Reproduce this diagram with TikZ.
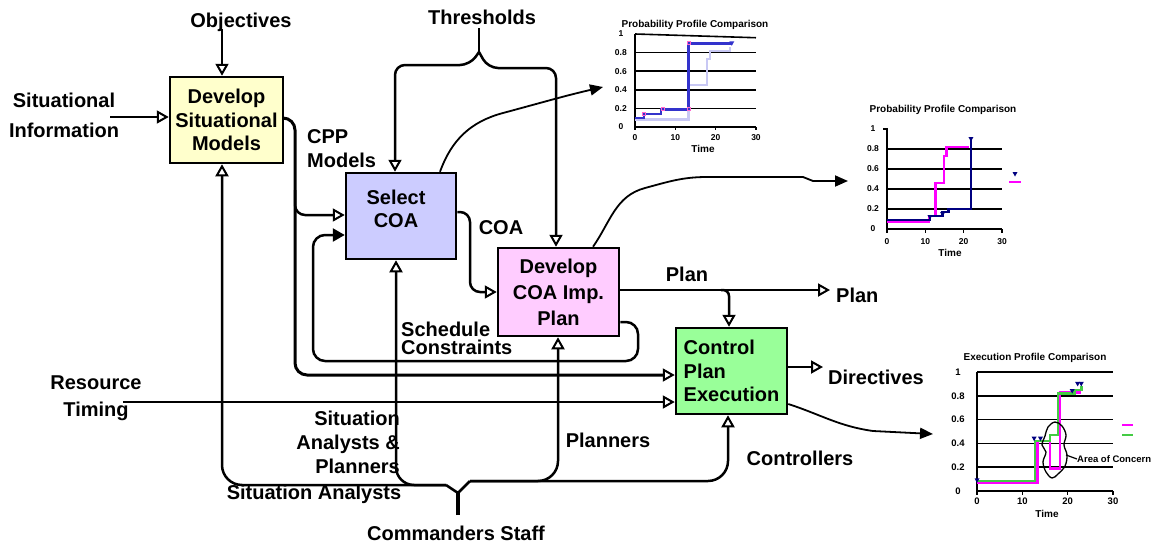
\documentclass[tikz,border=0pt]{standalone}
\usepackage{fontspec}
\setmainfont{Liberation Sans}
\usetikzlibrary{arrows.meta,calc}
\definecolor{ybox}{HTML}{FFFFCC}
\definecolor{bbox}{HTML}{CCCCFF}
\definecolor{pbox}{HTML}{FFCCFF}
\definecolor{gbox}{HTML}{99FF99}
\definecolor{cdark}{HTML}{3333CC}
\definecolor{clight}{HTML}{C8C8F4}
\definecolor{cnavy}{HTML}{000080}
\definecolor{cmag}{HTML}{FF00FF}
\definecolor{cgreen}{HTML}{44CC44}
\definecolor{cpink}{HTML}{FF66CC}
\newcommand{\rstri}[2]{\fill[#1] (#2) ++(-2.5pt,2pt) -- ++(5pt,0pt) -- ++(-2.5pt,-4.5pt) -- cycle;}
\begin{document}
\begin{tikzpicture}[x=1pt,y=-1pt,
  lbl/.style={font=\fontsize{20}{24}\selectfont\bfseries, inner sep=0pt},
  box/.style={draw, line width=2.5pt, inner sep=0pt, font=\fontsize{20}{23.5}\selectfont\bfseries, align=center},
  wire/.style={line width=2.5pt},
  oarrow/.style={wire, -{Triangle[open,length=12pt,width=13pt,line width=2pt]}},
  barrow/.style={wire, -{Triangle[length=12pt,width=13pt]}},
  farrow/.style={line width=1.8pt, -{Triangle[length=13pt,width=11pt]}},
  grid/.style={line width=1.6pt},
  axis/.style={line width=1.6pt},
  tk/.style={font=\fontsize{8.5}{9}\selectfont\bfseries, inner sep=0pt},
  tk3/.style={font=\fontsize{9.5}{10}\selectfont\bfseries, inner sep=0pt},
  ttl/.style={font=\fontsize{10}{11}\selectfont\bfseries, inner sep=0pt},
]
\useasboundingbox (0,0) rectangle (1154,546);

% ---------- boxes ----------
\node[box, fill=ybox, minimum width=113pt, minimum height=86pt] (dsm) at (226.5,120) {Develop\\Situational\\Models};
\node[box, fill=bbox, minimum width=110pt, minimum height=86pt] (sel) at (401,216) {};
\node[lbl, align=center, font=\fontsize{20}{23}\selectfont\bfseries] (selT) at (396,209) {Select\\COA};
\node[box, fill=pbox, minimum width=121pt, minimum height=88pt, font=\fontsize{20}{26}\selectfont\bfseries] (dcoa) at (558.5,292) {Develop\\COA Imp.\\Plan};
\node[box, fill=gbox, minimum width=111pt, minimum height=86pt, align=left] (ctrl) at (731.5,371) {Control\\Plan\\Execution};

% ---------- labels ----------
\node[lbl] (obj) at (241,22) {Objectives};
\node[lbl, align=center] (si) at (64,115) {Situational\\[6pt]Information};
\node[lbl] (thr) at (482,17) {Thresholds};
\node[lbl, align=left, anchor=west] (cpp) at (307,149) {CPP\\Models};
\node[lbl] (coaL) at (501,228) {COA};
\node[lbl] (planL) at (687,274) {Plan};
\node[lbl, anchor=west] (planR) at (836,295) {Plan};
\node[lbl, align=left, anchor=west, font=\fontsize{20}{18}\selectfont\bfseries] (sc) at (401,338) {Schedule\\Constraints};
\node[lbl, anchor=west] (dir) at (828,377) {Directives};
\node[lbl, align=center] (rt) at (96,398) {Resource\\[3pt]Timing};
\node[lbl, align=right, anchor=east] (sap) at (400,442) {Situation\\Analysts \&\\Planners};
\node[lbl] (sa) at (314,494) {Situation Analysts};
\node[lbl] (pl) at (608,440) {Planners};
\node[lbl] (ctl) at (800,458) {Controllers};
\node[lbl] (cs) at (456,533) {Commanders Staff};

% ---------- connectors ----------
\coordinate (objA) at (222,29);
\draw[oarrow] (objA) -- (objA |- dsm.north);

\coordinate (siA) at (110,117);
\draw[oarrow] (siA) -- (siA -| dsm.west);

\coordinate (cA) at (295,118);
\coordinate (cB) at (295,375);
\coordinate (cC) at (295,215);
\coordinate (cD) at (295,190);
\draw[oarrow, line width=3pt, rounded corners=12pt] (dsm.east |- cA) -- (cA) -- (cB) -- (cB -| ctrl.west);
\draw[oarrow, rounded corners=10pt] (cD) -- (cC) -- (cC -| sel.west);

\coordinate (sA) at (638,322);
\coordinate (sB) at (638,361);
\coordinate (sC) at (313,361);
\coordinate (sD) at (313,235);
\draw[barrow, rounded corners=12pt] (dcoa.east |- sA) -- (sA) -- (sB) -- (sC) -- (sD) -- (sD -| sel.west);

\coordinate (kA) at (470,212);
\coordinate (kB) at (470,292);
\draw[oarrow, rounded corners=10pt] (sel.east |- kA) -- (kA) -- (kB) -- (dcoa.west);

\coordinate (tA) at (479,28);
\coordinate (tJ) at (479,52);
\coordinate (tL) at (395,65);
\coordinate (tR) at (556,68);
\draw[wire] (tA) -- (tJ);
\draw[oarrow, rounded corners=10pt] (tJ) -- (470,65) -- (tL) -- (tL |- sel.north);
\draw[oarrow, rounded corners=10pt] (tJ) -- (488,68) -- (tR) -- (tR |- dcoa.north);

\coordinate (pA) at (830,290);
\draw[oarrow] (dcoa.east |- pA) -- (pA);
\coordinate (pB) at (721,290);
\coordinate (pC) at (729,300);
\draw[oarrow, rounded corners=6pt] (pB) -- (pB -| pC) -- (pC |- ctrl.north);

\coordinate (dA) at (823,367);
\draw[oarrow] (ctrl.east |- dA) -- (dA);

\coordinate (rA) at (123,402);
\draw[oarrow] (rA) -- (rA -| ctrl.west);

% commanders staff tree
\coordinate (jL) at (446,485);
\coordinate (jR) at (470,481);
\coordinate (jM) at (458,493);
\coordinate (jB) at (458,515);
\draw[wire, line width=3.2pt] (jB) -- (jM);
\draw[wire] (jL) -- (jM) -- (jR);
\coordinate (b1) at (222,485);
\coordinate (b2) at (396,485);
\coordinate (b3) at (558,481);
\coordinate (b4) at (728,481);
\draw[oarrow, rounded corners=20pt] (jL) -- (b1) -- (b1 |- dsm.south);
\draw[oarrow, rounded corners=18pt] (jL) -- (b2) -- (b2 |- sel.south);
\draw[oarrow, rounded corners=20pt] (jR) -- (b3) -- (b3 |- dcoa.south);
\draw[oarrow, rounded corners=20pt] (jR) -- (b4) -- (b4 |- ctrl.south);

% curves to charts
\coordinate (k1) at (603,87);
\draw[farrow] ([xshift=39pt]sel.north) to[out=70,in=195] (503,113) to[out=15,in=193] (k1);
\coordinate (k2) at (848,181);
\draw[farrow] ([xshift=34.5pt]dcoa.north) to[out=55,in=195] (645,188) to[out=15,in=180] (707,177) -- (803,177) -- (813,181) -- (k2);
\coordinate (k3) at (933,434);
\draw[farrow] ([yshift=-33pt]ctrl.east) to[out=-18,in=172] (873,431) -- (k3);

% ---------- chart 1 ----------
\node[ttl] (c1t) at (695,25) {Probability Profile Comparison};
\node[ttl] (c1time) at (703,149) {Time};
\begin{scope}[shift={(635,127)}, x=4.033pt, y=93pt]
  \foreach \v in {0.2,0.4,0.6,0.8} \draw[grid] (0,\v) -- (30,\v);
  \draw[grid] (0,1) -- (30,0.96);
  \draw[axis] (0,1) -- (0,0) -- (30,0);
  \foreach \t in {0,10,20,30} {
    \draw[axis] (\t,0) -- (\t,-0.035);
    \node[tk] (c1x\t) at (\t,-0.118) {\t};
  }
  \foreach \v/\n/\l in {0/0/0,0.2/2/0.2,0.4/4/0.4,0.6/6/0.6,0.8/8/0.8,1/10/1}
    \node[tk] (c1y\n) at (-3.5,\v) {\l};
  \draw[clight, line width=2.4pt] (0,0.08) -- (13.3,0.08) -- (13.3,0.45) -- (17.8,0.45) -- (17.8,0.73) -- (18.6,0.73) -- (18.6,0.82) -- (23.6,0.82) -- (23.6,0.86);
  \draw[cdark, line width=2.4pt] (0,0.1) -- (2.3,0.1) -- (2.3,0.14) -- (6.4,0.14) -- (6.4,0.19) -- (13.3,0.19) -- (13.3,0.9) -- (24,0.9);
  \draw[cdark, line width=3.5pt] (13.3,0.19) -- (13.3,0.9);
  \foreach \p in {(13.3,0.9),(13.3,0.19),(6.8,0.19),(2.3,0.14)}
    \draw[cpink, line width=0.8pt] \p ++(-1.5pt,-1.5pt) rectangle ++(3pt,3pt);
  \rstri{cdark}{24,0.9}
\end{scope}

% ---------- chart 2 ----------
\node[ttl] (c2t) at (943,110) {Probability Profile Comparison};
\node[ttl] (c2time) at (950,253) {Time};
\begin{scope}[shift={(887,229)}, x=3.833pt, y=100pt]
  \foreach \v in {0.2,0.4,0.6,0.8} \draw[grid] (0,\v) -- (30,\v);
  \draw[axis] (-1,1) -- (0,1) -- (0,0) -- (30,0);
  \foreach \t in {0,10,20,30} {
    \draw[axis] (\t,0) -- (\t,-0.04);
    \node[tk] (c2x\t) at (\t,-0.13) {\t};
  }
  \foreach \v/\n/\l in {0/0/0,0.2/2/0.2,0.4/4/0.4,0.6/6/0.6,0.8/8/0.8,1/10/1}
    \node[tk] (c2y\n) at (-3.65,\v) {\l};
  \draw[cmag, line width=2.4pt] (0,0.075) -- (11,0.075) -- (11,0.13) -- (12.6,0.13) -- (12.6,0.46) -- (14.8,0.46) -- (14.8,0.73) -- (15.5,0.73) -- (15.5,0.82) -- (21.5,0.82);
  \draw[cnavy, line width=2.4pt] (0,0.09) -- (11.2,0.09) -- (11.2,0.13) -- (14.5,0.13) -- (14.5,0.17) -- (16,0.17) -- (16,0.2) -- (21.9,0.2) -- (21.9,0.9);
  \rstri{cnavy}{21.9,0.9}
  \rstri{cnavy}{14.5,0.15}
  \rstri{cnavy}{11.2,0.12}
\end{scope}
\coordinate (c2leg) at (1015,174);
\rstri{cnavy}{c2leg}
\draw[cmag, line width=2pt] (1009,182) -- (1021,182);

% ---------- chart 3 ----------
\node[ttl] (c3t) at (1035,358) {Execution Profile Comparison};
\node[ttl] (c3time) at (1047,514) {Time};
\begin{scope}[shift={(977,491)}, x=4.533pt, y=119pt]
  \foreach \v in {0.2,0.4,0.6,0.8,1} \draw[grid] (0,\v) -- (30,\v);
  \draw[axis] (0,1) -- (0,0) -- (30,0);
  \foreach \t in {0,10,20,30} {
    \draw[axis] (\t,0) -- (\t,-0.03);
    \node[tk3] (c3x\t) at (\t,-0.085) {\t};
  }
  \foreach \v/\n/\l in {0/0/0,0.2/2/0.2,0.4/4/0.4,0.6/6/0.6,0.8/8/0.8,1/10/1}
    \node[tk3] (c3y\n) at (-4.2,\v) {\l};
  \draw[cmag, line width=2.6pt] (0,0.07) -- (13.4,0.07) -- (13.4,0.42) -- (16.1,0.42) -- (16.1,0.19) -- (18.3,0.19) -- (18.3,0.83) -- (23,0.83);
  \draw[cgreen, line width=2.6pt] (0,0.085) -- (12.8,0.085) -- (12.8,0.42) -- (16.1,0.42) -- (16.1,0.47) -- (17.9,0.47) -- (17.9,0.82) -- (21.5,0.82) -- (21.5,0.85) -- (23,0.85) -- (23,0.88);
  \rstri{cnavy}{0,0.09}
  \rstri{cnavy}{12.6,0.44}
  \rstri{cnavy}{14,0.44}
  \rstri{cnavy}{21,0.84}
  \rstri{cnavy}{22.2,0.9}
  \rstri{cnavy}{23,0.9}
\end{scope}
\draw[line width=1.3pt] plot[smooth cycle, tension=0.6] coordinates {(1055,422) (1062,426) (1066,435) (1064,445) (1067,455) (1065,466) (1058,474) (1052,478) (1046,472) (1043,462) (1046,452) (1042,445) (1045,436) (1048,427)};
\node[anchor=west, inner sep=0pt, font=\fontsize{9.5}{10}\selectfont\bfseries] (aoc) at (1077,459) {Area of Concern};
\coordinate (aocA) at (1066,455);
\draw[line width=1.2pt] (aocA) -- (aoc.west);
\draw[cmag, line width=2.6pt] (1122,425) -- (1133,425);
\draw[cgreen, line width=2.6pt] (1122,435) -- (1133,435);
\end{tikzpicture}
\end{document}
